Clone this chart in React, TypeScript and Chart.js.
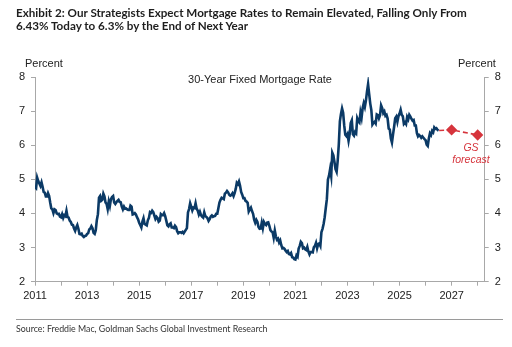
import React, { useEffect, useRef } from "react";
import { Chart, registerables } from "chart.js";

Chart.register(...registerables);

// Semi-monthly 30-year fixed mortgage rate (%), starting Jan 2011
const startYear = 2011;
const stepPerYear = 24;
const rates: number[] = [
  // 2011
  4.77, 4.74, 5.05, 4.95, 4.88, 4.81, 4.91, 4.78, 4.63, 4.61, 4.5, 4.5,
  4.6, 4.52, 4.32, 4.15, 4.12, 4.01, 4.12, 4.1, 4.0, 3.98, 3.99, 3.91,
  // 2012
  3.89, 3.98, 3.87, 3.95, 3.92, 4.08, 3.9, 3.88, 3.79, 3.75, 3.67, 3.66,
  3.56, 3.49, 3.59, 3.66, 3.55, 3.4, 3.39, 3.41, 3.34, 3.31, 3.34, 3.35,
  // 2013
  3.4, 3.42, 3.53, 3.56, 3.63, 3.57, 3.43, 3.4, 3.51, 3.81, 3.98, 4.46,
  4.51, 4.37, 4.4, 4.58, 4.5, 4.32, 4.28, 4.13, 4.35, 4.22, 4.42, 4.48,
  // 2014
  4.51, 4.32, 4.28, 4.33, 4.37, 4.4, 4.34, 4.33, 4.2, 4.12, 4.2, 4.14,
  4.15, 4.12, 4.1, 4.1, 4.23, 4.2, 3.97, 3.98, 4.01, 3.97, 3.89, 3.83,
  // 2015
  3.73, 3.66, 3.59, 3.76, 3.86, 3.69, 3.67, 3.65, 3.8, 3.87, 4.04, 4.02,
  4.08, 4.04, 3.94, 3.84, 3.9, 3.86, 3.76, 3.79, 3.98, 3.95, 3.95, 4.01,
  // 2016
  3.92, 3.79, 3.65, 3.62, 3.68, 3.71, 3.59, 3.59, 3.57, 3.64, 3.6, 3.48,
  3.42, 3.45, 3.45, 3.43, 3.46, 3.42, 3.47, 3.52, 3.57, 4.03, 4.13, 4.3,
  // 2017
  4.2, 4.09, 4.17, 4.16, 4.3, 4.14, 4.08, 3.97, 4.05, 3.95, 3.91, 3.88,
  4.03, 3.92, 3.9, 3.86, 3.78, 3.83, 3.91, 3.94, 3.9, 3.92, 3.93, 3.99,
  // 2018
  3.99, 4.15, 4.32, 4.4, 4.46, 4.44, 4.42, 4.58, 4.61, 4.66, 4.62, 4.55,
  4.52, 4.54, 4.59, 4.51, 4.6, 4.72, 4.9, 4.86, 4.94, 4.81, 4.63, 4.55,
  // 2019
  4.45, 4.45, 4.37, 4.35, 4.31, 4.06, 4.12, 4.17, 4.07, 3.99, 3.82, 3.73,
  3.81, 3.75, 3.6, 3.55, 3.56, 3.73, 3.57, 3.75, 3.69, 3.66, 3.73, 3.74,
  // 2020
  3.64, 3.51, 3.47, 3.45, 3.29, 3.5, 3.33, 3.23, 3.26, 3.15, 3.21, 3.07,
  2.98, 2.99, 2.96, 2.91, 2.87, 2.9, 2.81, 2.8, 2.84, 2.72, 2.71, 2.66,
  // 2021
  2.65, 2.77, 2.73, 2.97, 3.05, 3.17, 3.13, 2.98, 3.0, 2.95, 2.93, 3.02,
  2.88, 2.8, 2.87, 2.87, 2.86, 3.01, 3.05, 3.14, 2.98, 3.1, 3.12, 3.05,
  // 2022
  3.45, 3.55, 3.69, 3.89, 4.16, 4.42, 5.0, 5.11, 5.3, 5.1, 5.78, 5.7,
  5.51, 5.3, 5.22, 5.55, 6.02, 6.7, 6.92, 7.08, 6.95, 6.58, 6.31, 6.27,
  // 2023
  6.33, 6.13, 6.32, 6.65, 6.73, 6.32, 6.28, 6.39, 6.35, 6.79, 6.71, 6.67,
  6.96, 6.81, 7.09, 7.23, 7.12, 7.31, 7.57, 7.79, 7.5, 7.22, 7.03, 6.61,
  // 2024
  6.66, 6.69, 6.64, 6.9, 6.88, 6.79, 6.88, 7.17, 7.09, 6.94, 6.99, 6.86,
  6.89, 6.78, 6.49, 6.46, 6.2, 6.08, 6.32, 6.54, 6.79, 6.84, 6.69, 6.85,
  // 2025
  6.93, 7.04, 6.89, 6.85, 6.63, 6.67, 6.62, 6.83, 6.76, 6.89, 6.84, 6.77,
  6.72, 6.74, 6.58, 6.58, 6.35, 6.26, 6.3, 6.27, 6.22, 6.26, 6.22, 6.18,
  // 2026
  6.15, 6.02, 5.98, 6.2, 6.35, 6.3, 6.42, 6.38, 6.52, 6.48, 6.5, 6.45, 6.43,
];

const forecastDates: number[] = [2026.52, 2027, 2028];
const forecastValues: number[] = [6.43, 6.45, 6.3];

const yearTicks: number[] = [2011, 2012, 2013, 2014, 2015, 2016, 2017, 2018, 2019, 2020, 2021, 2022, 2023, 2024, 2025, 2026, 2027, 2028];
const labeledYears: number[] = [2011, 2013, 2015, 2017, 2019, 2021, 2023, 2025, 2027];
const yTicks: number[] = [2, 3, 4, 5, 6, 7, 8];

const NAVY = "#0b3a66";
const RED = "#d6343c";
const AXIS = "#a8a8a8";
const TICKFONT = { family: "'Liberation Sans', Arial, sans-serif", size: 11 };

export default function App() {
  const ref = useRef<HTMLCanvasElement | null>(null);

  useEffect(() => {
    document.body.style.margin = "0";
    const ctx = ref.current!;
    const actual = rates.map((v, i) => ({ x: startYear + i / stepPerYear, y: v }));
    const forecast = forecastDates.map((d, i) => ({ x: d, y: forecastValues[i] }));

    const yAxisCommon = (pos: "left" | "right", width: number) => ({
      type: "linear" as const,
      position: pos,
      min: 2,
      max: 8,
      afterBuildTicks: (s: any) => {
        s.ticks = yTicks.map((v) => ({ value: v }));
      },
      afterFit: (s: any) => {
        s.width = width;
      },
      grid: { drawOnChartArea: false, drawTicks: true, tickLength: 4, color: AXIS },
      border: { display: true, color: AXIS, width: 1 },
      ticks: { color: "#222", font: TICKFONT, padding: 6 },
    });

    const chart = new Chart(ctx, {
      type: "line",
      data: {
        datasets: [
          {
            data: actual,
            borderColor: NAVY,
            borderWidth: 2.6,
            pointRadius: 0,
            tension: 0,
            yAxisID: "y",
          },
          {
            data: forecast,
            borderColor: RED,
            backgroundColor: RED,
            borderWidth: 1.6,
            borderDash: [5, 3],
            pointStyle: "rectRot",
            pointRadius: [0, 4.5, 4.5],
            pointBackgroundColor: RED,
            pointBorderColor: RED,
            tension: 0,
            yAxisID: "y",
          },
        ],
      },
      options: {
        responsive: false,
        animation: false,
        devicePixelRatio: 1,
        layout: { padding: { top: 77, bottom: 0, left: 0, right: 0 } },
        plugins: { legend: { display: false }, tooltip: { enabled: false }, title: { display: false } },
        scales: {
          x: {
            type: "linear",
            min: 2011,
            max: 2028.27,
            afterBuildTicks: (s: any) => {
              s.ticks = yearTicks.map((v) => ({ value: v }));
            },
            afterFit: (s: any) => {
              s.height = 65.3;
            },
            grid: { drawOnChartArea: false, drawTicks: true, tickLength: 4, color: AXIS },
            border: { display: true, color: AXIS, width: 1 },
            ticks: {
              color: "#222",
              font: TICKFONT,
              padding: 4,
              autoSkip: false,
              maxRotation: 0,
              callback: (v: any) => (labeledYears.includes(Number(v)) ? String(v) : ""),
            },
          },
          y: yAxisCommon("left", 35),
          y2: yAxisCommon("right", 27.3),
        },
      },
    });
    return () => chart.destroy();
  }, []);

  const abs = (style: React.CSSProperties): React.CSSProperties => ({ position: "absolute", whiteSpace: "nowrap", ...style });

  return (
    <div style={{ position: "relative", width: 512, height: 347, background: "#fff", overflow: "hidden" }}>
      <canvas ref={ref} width={512} height={347} style={{ position: "absolute", left: 0, top: 0 }} />
      <div style={abs({ left: 16, top: 6, fontFamily: "Lato, 'Open Sans', sans-serif", fontWeight: 700, fontSize: 11.65, lineHeight: "13px", color: "#1e1e1e" })}>
        Exhibit 2: Our Strategists Expect Mortgage Rates to Remain Elevated, Falling Only From
        <br />
        6.43% Today to 6.3% by the End of Next Year
      </div>
      <div style={abs({ left: 25, top: 57, fontFamily: "'Liberation Sans', Arial", fontSize: 11, color: "#222" })}>Percent</div>
      <div style={abs({ left: 458, top: 57, fontFamily: "'Liberation Sans', Arial", fontSize: 11, color: "#222" })}>Percent</div>
      <div style={abs({ left: 260, top: 73, transform: "translateX(-50%)", fontFamily: "'Liberation Sans', Arial", fontSize: 11, color: "#222" })}>
        30-Year Fixed Mortgage Rate
      </div>
      <div style={abs({ left: 471, top: 142, transform: "translateX(-50%)", textAlign: "center", fontFamily: "'Liberation Sans', Arial", fontStyle: "italic", fontSize: 10.5, lineHeight: "11.5px", color: RED })}>
        GS
        <br />
        forecast
      </div>
      <div style={{ position: "absolute", left: 16, top: 319, width: 487, height: 1, background: "#9a9a9a" }} />
      <div style={abs({ left: 16, top: 323, fontFamily: "Lato, 'Open Sans', sans-serif", fontSize: 8.8, color: "#333" })}>
        Source: Freddie Mac, Goldman Sachs Global Investment Research
      </div>
    </div>
  );
}
